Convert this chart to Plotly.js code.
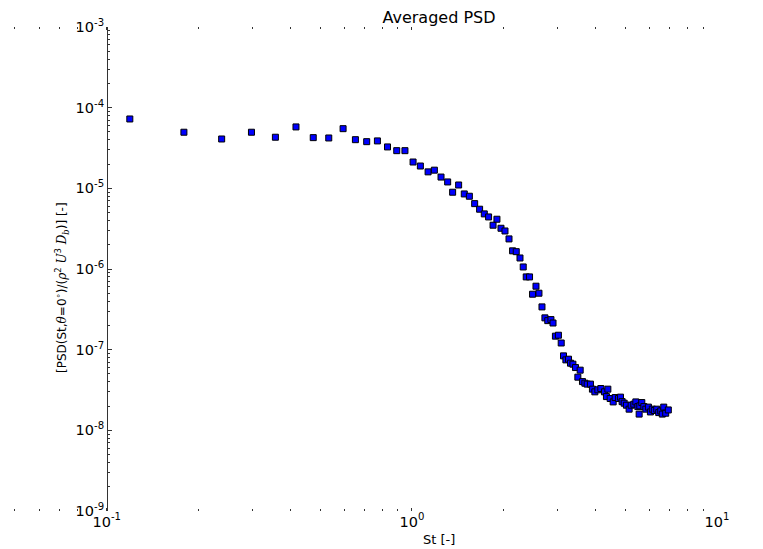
<!DOCTYPE html>
<html>
<head>
<meta charset="utf-8">
<script src="https://cdn.plot.ly/plotly-3.0.1.min.js"></script>
<style>html,body{margin:0;padding:0;background:#fff;}#chart{width:763px;height:549px;}</style>
</head>
<body>
<div id="chart"></div>
<script>
// Strouhal number (x) and averaged PSD (y)
const st = [0.119,0.179,0.238,0.298,0.357,0.417,0.475,0.534,0.595,0.653,
  0.711,0.771,0.832,0.892,0.949,1.009,1.066,1.130,1.185,1.246,
  1.310,1.360,1.423,1.485,1.543,1.606,1.667,1.727,1.784,1.845,
  1.900,1.959,2.019,2.081,2.138,2.198,2.261,2.317,2.370,2.430,
  2.486,2.551,2.609,2.669,2.729,2.788,2.856,2.901,2.954,3.022,
  3.086,3.140,3.197,3.261,3.310,3.371,3.437,3.499,3.561,3.623,
  3.689,3.754,3.848,3.906,3.978,4.069,4.162,4.277,4.342,4.388,
  4.465,4.568,4.637,4.754,4.827,4.887,4.963,5.049,5.152,5.231,
  5.338,5.420,5.502,5.557,5.585,5.670,5.757,5.844,5.960,6.050,
  6.138,6.231,6.346,6.442,6.540,6.619,6.690,6.791,6.925];
const psd = [7.24e-5,4.96e-5,4.09e-5,4.96e-5,4.30e-5,5.77e-5,4.25e-5,4.21e-5,5.49e-5,4.01e-5,
  3.79e-5,3.87e-5,3.26e-5,2.93e-5,2.93e-5,2.12e-5,1.89e-5,1.60e-5,1.68e-5,1.38e-5,
  1.20e-5,8.95e-6,1.10e-5,8.52e-6,7.98e-6,6.46e-6,5.51e-6,4.82e-6,4.42e-6,3.49e-6,
  4.14e-6,3.20e-6,2.96e-6,2.36e-6,1.68e-6,1.64e-6,1.37e-6,1.06e-6,7.98e-7,7.98e-7,
  4.87e-7,6.12e-7,5.01e-7,3.39e-7,2.48e-7,2.29e-7,2.36e-7,2.14e-7,1.47e-7,1.51e-7,
  1.21e-7,8.38e-8,7.47e-8,7.62e-8,6.80e-8,6.61e-8,6.00e-8,4.56e-8,5.57e-8,4.02e-8,
  3.84e-8,3.74e-8,3.74e-8,3.24e-8,3.00e-8,3.18e-8,3.30e-8,3.00e-8,2.62e-8,3.24e-8,
  2.48e-8,2.25e-8,2.55e-8,2.48e-8,2.58e-8,2.27e-8,2.17e-8,2.05e-8,1.83e-8,2.05e-8,
  2.11e-8,2.25e-8,1.97e-8,1.59e-8,2.01e-8,2.21e-8,1.97e-8,1.83e-8,1.94e-8,1.69e-8,
  1.83e-8,1.76e-8,1.83e-8,1.66e-8,1.74e-8,1.59e-8,1.94e-8,1.63e-8,1.79e-8];

// tick values and labels
const xTickVals = [0.1, 1, 10];
const xTickText = ['10<sup>-1</sup>', '10<sup>0</sup>', '10<sup>1</sup>'];
const yTickVals = [1e-9, 1e-8, 1e-7, 1e-6, 1e-5, 1e-4, 1e-3];
const yTickText = ['10<sup>-9</sup>', '10<sup>-8</sup>', '10<sup>-7</sup>', '10<sup>-6</sup>',
  '10<sup>-5</sup>', '10<sup>-4</sup>', '10<sup>-3</sup>'];

const titleText = 'Averaged PSD';
const xTitle = 'St [-]';
const serif = '<span style="font-family:\'DejaVu Serif\';font-style:italic">';
const yTitle = '[PSD(St,' + serif + 'θ</span>=0<sup>∘</sup>)/(' + serif + 'ρ</span><sup>2</sup> ' +
  serif + 'U</span><sup>3</sup> ' + serif + 'D</span><sub>' + serif + 'b</span></sub>)] [-]';

const W = 763, H = 549;
const L = 7, R = 46, T = 27, B = 38;
const plotW = W - L - R, plotH = H - T - B;
const axisX = 107; // pixel where the y axis sits

const trace = {
  x: st, y: psd, type: 'scatter', mode: 'markers',
  marker: {symbol: 'square', size: 6, color: '#0000ff', line: {color: '#000', width: 1}},
  hoverinfo: 'x+y'
};

const tickFont = {family: 'DejaVu Sans', size: 14.5, color: '#000'};
const layout = {
  width: W, height: H,
  margin: {l: L, r: R, t: T, b: B, pad: 0},
  paper_bgcolor: '#fff', plot_bgcolor: '#fff',
  showlegend: false,
  title: {text: titleText, font: {family: 'DejaVu Sans', size: 16, color: '#000'},
    x: 439 / W, xref: 'container', xanchor: 'center', y: 1 - 17 / H, yref: 'container', yanchor: 'middle'},
  xaxis: {
    type: 'log', range: [-1.327, 1], autorange: false,
    showline: false, showgrid: false, zeroline: false,
    ticks: 'inside', ticklen: 3, tickwidth: 1, tickcolor: '#333', mirror: 'ticks',
    tickmode: 'array', tickvals: xTickVals, ticktext: xTickText, tickfont: tickFont,
    minor: {ticks: 'inside', ticklen: 2, dtick: 'D1', tickcolor: '#333', showgrid: false},
    automargin: false
  },
  yaxis: {
    type: 'log', range: [-9, -3], autorange: false,
    anchor: 'free', position: (axisX - L) / plotW,
    showline: true, linecolor: '#333', linewidth: 1,
    showgrid: false, zeroline: false,
    ticks: 'inside', ticklen: 4, tickwidth: 1, tickcolor: '#333',
    tickmode: 'array', tickvals: yTickVals, ticktext: yTickText, tickfont: tickFont,
    minor: {ticks: 'inside', ticklen: 2, dtick: 'D1', tickcolor: '#333', showgrid: false},
    automargin: false
  },
  annotations: [
    {text: xTitle, xref: 'paper', yref: 'paper', x: (439 - L) / plotW, y: (H - B - 539) / plotH,
     xanchor: 'center', yanchor: 'middle', showarrow: false, font: {family: 'DejaVu Sans', size: 13, color: '#000'}},
    {text: yTitle, xref: 'paper', yref: 'paper', x: (62 - L) / plotW, y: (H - B - 287) / plotH,
     xanchor: 'center', yanchor: 'middle', textangle: -90, showarrow: false,
     font: {family: 'DejaVu Sans', size: 12, color: '#000'}}
  ]
};

Plotly.newPlot('chart', [trace], layout, {displayModeBar: false, staticPlot: true});
</script>
</body>
</html>
